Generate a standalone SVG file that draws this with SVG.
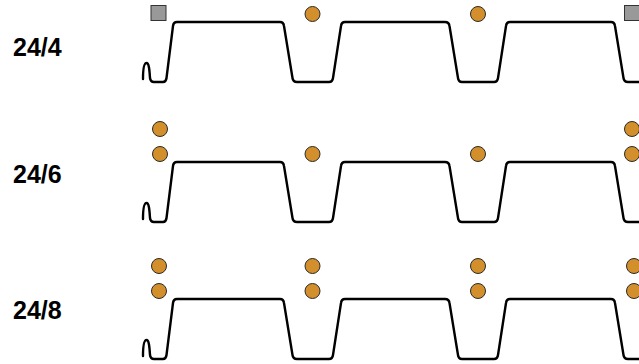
<svg xmlns="http://www.w3.org/2000/svg" width="639" height="364" viewBox="0 0 639 364">
  <style>
    .lbl { font-family: "Liberation Sans", Arial, sans-serif; font-weight: bold; font-size: 25px; fill: #000; }
    .prof { fill: none; stroke: #000; stroke-width: 2.4; stroke-linejoin: round; stroke-linecap: round; }
    .dot { fill: #D38F2B; stroke: #2a2a2a; stroke-width: 1; }
    .sq { fill: #999999; stroke: #333; stroke-width: 1; }
  </style>
  <defs>
    <path id="profile" d="M143,79 C143,70 144,63 146.5,63 C149,63 149.5,70 150,78 Q150.5,82 154,82 L163,82 Q166,82 166.5,78 L173,26 Q173.5,22 177,22 L280,22 Q283.5,22 284,26 L292.5,78 Q293,82 297,82 L329,82 Q332.5,82 333,78 L341,26 Q341.5,22 345,22 L445,22 Q449,22 449.5,26 L458,78 Q458.5,82 462,82 L494,82 Q497.5,82 498,78 L506,26 Q506.5,22 510,22 L611,22 Q614.5,22 615,26 L623.5,78 Q624,82 628,82 L645,82"/>
  </defs>

  <g id="row-24-4">
    <text class="lbl" x="13" y="56">24/4</text>
    <use href="#profile" class="prof"/>
    <rect class="sq" x="151" y="5.5" width="15" height="15"/>
    <circle class="dot" cx="312.5" cy="14" r="7.5"/>
    <circle class="dot" cx="478" cy="14" r="7.5"/>
    <rect class="sq" x="624.5" y="5.5" width="15" height="15"/>
  </g>

  <g id="row-24-6">
    <text class="lbl" x="13" y="183">24/6</text>
    <use href="#profile" class="prof" transform="translate(0,140)"/>
    <circle class="dot" cx="160" cy="129" r="7.5"/>
    <circle class="dot" cx="160" cy="154" r="7.5"/>
    <circle class="dot" cx="312.5" cy="154" r="7.5"/>
    <circle class="dot" cx="478" cy="154" r="7.5"/>
    <circle class="dot" cx="632" cy="129" r="7.5"/>
    <circle class="dot" cx="632" cy="154" r="7.5"/>
  </g>

  <g id="row-24-8">
    <text class="lbl" x="13" y="319">24/8</text>
    <use href="#profile" class="prof" transform="translate(0,277)"/>
    <circle class="dot" cx="159" cy="266" r="7.5"/>
    <circle class="dot" cx="159" cy="291" r="7.5"/>
    <circle class="dot" cx="312.5" cy="266" r="7.5"/>
    <circle class="dot" cx="312.5" cy="291" r="7.5"/>
    <circle class="dot" cx="478" cy="266" r="7.5"/>
    <circle class="dot" cx="478" cy="291" r="7.5"/>
    <circle class="dot" cx="634" cy="266" r="7.5"/>
    <circle class="dot" cx="634" cy="291" r="7.5"/>
  </g>

  <g id="connectors"/>
</svg>
